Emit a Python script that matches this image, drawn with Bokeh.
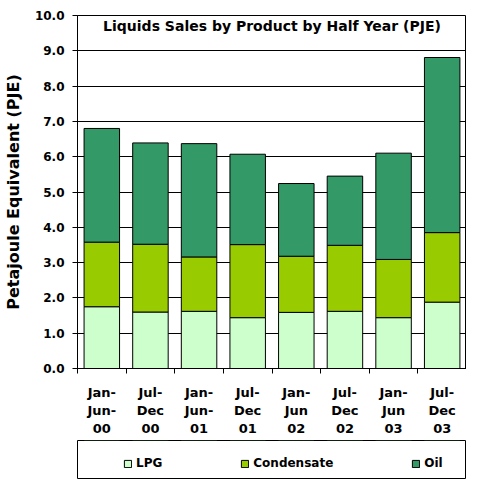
import numpy as np
from bokeh.plotting import figure
from bokeh.layouts import column
from bokeh.models import (ColumnDataSource, FixedTicker, Legend, LegendItem, Label,
                          Range1d, PrintfTickFormatter)
from bokeh.embed import file_html
from bokeh.resources import INLINE

# ---- data ----
periods = ["Jan-\nJun-\n00", "Jul-\nDec\n00", "Jan-\nJun-\n01", "Jul-\nDec\n01",
           "Jan-\nJun\n02", "Jul-\nDec\n02", "Jan-\nJun\n03", "Jul-\nDec\n03"]
lpg = [1.75, 1.60, 1.62, 1.44, 1.59, 1.62, 1.44, 1.88]
condensate = [1.83, 1.92, 1.54, 2.07, 1.59, 1.87, 1.65, 1.97]
oil = [3.22, 2.87, 3.21, 2.56, 2.06, 1.96, 3.01, 4.96]
series = ["LPG", "Condensate", "Oil"]
colors = ["#CCFFCC", "#99CC00", "#339966"]
y_ticks = [0, 1, 2, 3, 4, 5, 6, 7, 8, 9, 10]
title_text = "Liquids Sales by Product by Half Year (PJE)"
y_label = "Petajoule Equivalent (PJE)"

FONT = "DejaVu Sans"

n = len(periods)
centers = [i + 0.5 for i in range(n)]
bounds = list(range(n + 1))

source = ColumnDataSource(dict(x=centers, LPG=lpg, Condensate=condensate, Oil=oil))

p = figure(width=466, height=440, output_backend="svg", toolbar_location=None,
           title=None,
           x_range=Range1d(0, n), y_range=Range1d(y_ticks[0], y_ticks[-1]),
           min_border_left=69, min_border_right=0, min_border_top=15,
           min_border_bottom=72)
p.background_fill_color = "white"
p.border_fill_color = "white"
p.outline_line_color = "black"
p.outline_line_width = 1

p.vbar_stack(series, x="x", width=0.73, source=source,
             fill_color=colors, line_color="black", line_width=1)

# x axis: labels at centres, tick marks at category boundaries
xa = p.xaxis[0]
xa.ticker = FixedTicker(ticks=centers, minor_ticks=bounds)
xa.major_label_overrides = {c: lab for c, lab in zip(centers, periods)}
xa.major_tick_out = 0
xa.major_tick_in = 0
xa.minor_tick_out = 5
xa.minor_tick_in = 0
xa.minor_tick_line_color = "black"
xa.axis_line_color = "black"
xa.major_label_standoff = 11
xa.major_label_text_font = FONT
xa.major_label_text_font_style = "bold"
xa.major_label_text_font_size = "13px"
xa.major_label_text_color = "black"

ya = p.yaxis[0]
ya.ticker = FixedTicker(ticks=y_ticks)
ya.formatter = PrintfTickFormatter(format="%.1f")
ya.major_tick_out = 5
ya.major_tick_in = 0
ya.minor_tick_line_color = None
ya.axis_line_color = "black"
ya.major_tick_line_color = "black"
ya.major_label_standoff = 8
ya.major_label_text_font = FONT
ya.major_label_text_font_style = "bold"
ya.major_label_text_font_size = "12px"
ya.major_label_text_color = "black"
ya.axis_label = y_label
ya.axis_label_standoff = 9
ya.axis_label_text_font = FONT
ya.axis_label_text_font_style = "bold"
ya.axis_label_text_font_size = "16px"
ya.axis_label_text_color = "black"

p.xgrid.grid_line_color = None
p.ygrid.ticker = FixedTicker(ticks=y_ticks)
p.ygrid.grid_line_color = "black"
p.ygrid.grid_line_alpha = 1

p.add_layout(Label(x=n / 2, y=9.69, text=title_text, text_align="center",
                   text_baseline="middle", text_font=FONT,
                   text_font_style="bold", text_font_size="14px",
                   text_color="black"))

# ---- legend strip below the chart (its frame is the legend box) ----
# the same stacked series are attached here but fall outside this strip's
# y range, so only their legend swatches show
p2 = figure(width=466, height=39, output_backend="svg", toolbar_location=None,
            title=None, x_axis_location=None, y_axis_location=None,
            x_range=Range1d(0, n), y_range=Range1d(-2, -1),
            min_border_left=76, min_border_right=0, min_border_top=0,
            min_border_bottom=0)
p2.grid.grid_line_color = None
p2.outline_line_color = "black"
p2.outline_line_width = 1
p2.background_fill_color = "white"
p2.border_fill_color = "white"
leg_renderers = p2.vbar_stack(series, x="x", width=0.73, source=source,
                              fill_color=colors, line_color="black", line_width=1)

legend = Legend(items=[LegendItem(label=s, renderers=[r]) for s, r in zip(series, leg_renderers)],
                orientation="horizontal", location=(46, 9), margin=0,
                padding=0, spacing=78, label_standoff=4,
                glyph_width=9, glyph_height=9, label_height=14,
                label_text_font=FONT, label_text_font_style="bold",
                label_text_font_size="12px", label_text_color="black",
                label_text_baseline="middle",
                border_line_color=None, background_fill_alpha=0)
p2.add_layout(legend, "center")

layout = column(p, p2, spacing=0)
open("out.html", "w").write(file_html(layout, INLINE))
